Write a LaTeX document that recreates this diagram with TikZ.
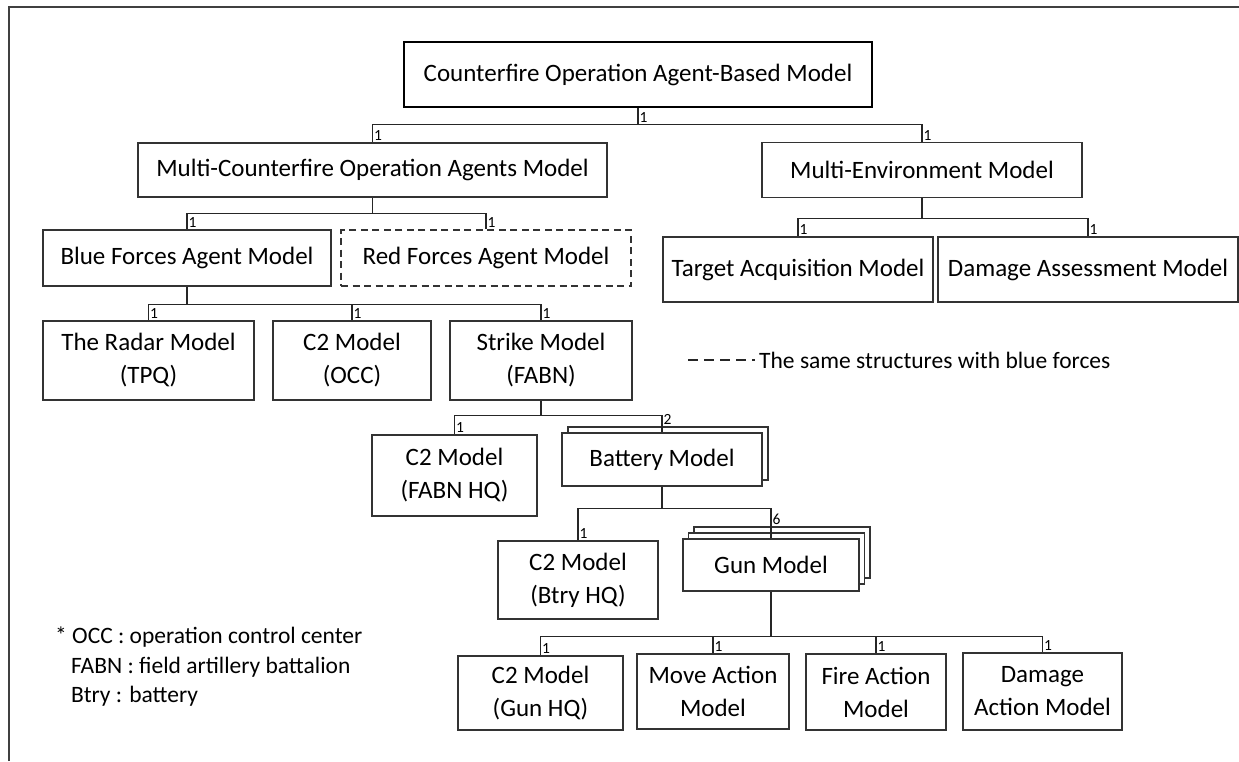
\documentclass[tikz,border=0pt]{standalone}
\usepackage{fontspec}
\setmainfont{Carlito}
\begin{document}
\begin{tikzpicture}[x=1pt,y=-1pt,
  box/.style={draw=black!80, line width=1.1pt, fill=white, inner sep=0pt, align=center, font=\fontsize{25}{33}\selectfont},
  conn/.style={draw=black!85, line width=1.1pt},
  mult/.style={font=\fontsize{15.5}{15.5}\selectfont, inner sep=1.5pt, anchor=south west},
  legendtext/.style={font=\fontsize{23.5}{30}\selectfont, inner sep=0pt, anchor=base west}]
\useasboundingbox (0,0) rectangle (1239,761);
\draw[black!75, line width=1.6pt] (9,761) -- (9,7) -- (1239,7);

% level 0
\node[box, line width=2.2pt, draw=black, minimum width=468pt, minimum height=65pt] (root) at (638,74.5) {Counterfire Operation Agent-Based Model};
% level 1
\node[box, minimum width=469pt, minimum height=54pt] (mc) at (372.5,170) {Multi-Counterfire Operation Agents Model};
\node[box, minimum width=320pt, minimum height=55pt] (me) at (922,170) {Multi-Environment Model};
% level 2
\node[box, minimum width=288pt, minimum height=56pt] (blue) at (187,258) {Blue Forces Agent Model};
\node[box, dash pattern=on 7pt off 4.5pt, minimum width=290pt, minimum height=56pt] (red) at (486,258) {Red Forces Agent Model};
\node[box, minimum width=270pt, minimum height=65pt] (ta) at (798,269.5) {Target Acquisition Model};
\node[box, minimum width=300pt, minimum height=65pt] (da) at (1088,269.5) {Damage Assessment Model};
% level 3
\node[box, minimum width=211pt, minimum height=79pt] (radar) at (148.5,360.5) {The Radar Model\\(TPQ)};
\node[box, minimum width=158pt, minimum height=79pt] (occ) at (352,360.5) {C2 Model\\(OCC)};
\node[box, minimum width=182pt, minimum height=79pt] (strike) at (541,360.5) {Strike Model\\(FABN)};
% level 4
\node[box, minimum width=165pt, minimum height=81pt] (fabnhq) at (454.5,475.5) {C2 Model\\(FABN HQ)};
\node[box, minimum width=200pt, minimum height=53pt] (batback) at (668,453.5) {};
\node[box, minimum width=200pt, minimum height=53pt] (bat) at (662,459.5) {Battery Model};
% level 5
\node[box, minimum width=160pt, minimum height=78pt] (btryhq) at (578,580) {C2 Model\\(Btry HQ)};
\node[box, minimum width=176pt, minimum height=51pt] (gunback) at (782,552.5) {};
\node[box, minimum width=176pt, minimum height=51pt] (gunmid) at (776.5,558.5) {};
\node[box, minimum width=176pt, minimum height=52pt] (gun) at (771,565) {Gun Model};
% level 6
\node[box, minimum width=165pt, minimum height=74pt] (gunhq) at (540.5,693) {C2 Model\\(Gun HQ)};
\node[box, minimum width=152pt, minimum height=75pt] (move) at (713,691.5) {Move Action\\Model};
\node[box, minimum width=140pt, minimum height=76pt] (fire) at (876,692) {Fire Action\\Model};
\node[box, minimum width=159pt, minimum height=77pt] (dact) at (1042.5,691.5) {Damage\\Action Model};

% connectors
\draw[conn] (root.south) -- ++(0,16.5) coordinate (h0);
\draw[conn] (h0) -| (mc.north);
\draw[conn] (h0) -| (me.north);
\node[mult] at (h0) {1};
\node[mult] at (mc.north) {1};
\node[mult] at (me.north) {1};

\draw[conn] (mc.south) -- ++(0,16) coordinate (h1);
\draw[conn] (h1) -| (blue.north);
\draw[conn] (h1) -| (red.north);
\node[mult] at (blue.north) {1};
\node[mult] at (red.north) {1};

\draw[conn] (me.south) -- ++(0,20) coordinate (h2);
\draw[conn] (h2) -| (ta.north);
\draw[conn] (h2) -| (da.north);
\node[mult] at (ta.north) {1};
\node[mult] at (da.north) {1};

\draw[conn] (blue.south) -- ++(0,17.5) coordinate (h3);
\draw[conn] (h3) -| (radar.north);
\draw[conn] (h3) -| (occ.north);
\draw[conn] (h3) -| (strike.north);
\node[mult] at (radar.north) {1};
\node[mult] at (occ.north) {1};
\node[mult] at (strike.north) {1};

\draw[conn] (strike.south) -- ++(0,15) coordinate (h4);
\draw[conn] (h4) -| (fabnhq.north);
\draw[conn] (h4) -| (bat.north);
\node[mult] at (fabnhq.north) {1};
\node[mult, yshift=6pt] at (bat.north) {2};

\draw[conn] (bat.south) -- ++(0,22) coordinate (h5);
\draw[conn] (h5) -| (btryhq.north);
\draw[conn] (h5) -| (gun.north);
\node[mult] at (btryhq.north) {1};
\node[mult, yshift=12pt] at (gun.north) {6};

\draw[conn, line width=2.2pt] (gun.south) -- ++(0,45) coordinate (h6);
\draw[conn] (h6) -| (gunhq.north);
\draw[conn] (h6) -| (move.north);
\draw[conn] (h6) -| (fire.north);
\draw[conn] (h6) -| (dact.north);
\node[mult] at (gunhq.north) {1};
\node[mult] at (move.north) {1};
\node[mult] at (fire.north) {1};
\node[mult] at (dact.north) {1};

% legend
\coordinate (lg1) at (688,360);
\coordinate (lg2) at (755,360);
\draw[conn, dash pattern=on 10pt off 6pt] (lg1) -- (lg2);
\node[legendtext] (lgt) at (759,368) {The same structures with blue forces};

% footnote
\node[legendtext] (n1) at (55,643) {* OCC : operation control center};
\node[legendtext] (n2) at (71,673) {FABN : field artillery battalion};
\node[legendtext] (n3) at (71,702) {Btry : battery};
\end{tikzpicture}
\end{document}
